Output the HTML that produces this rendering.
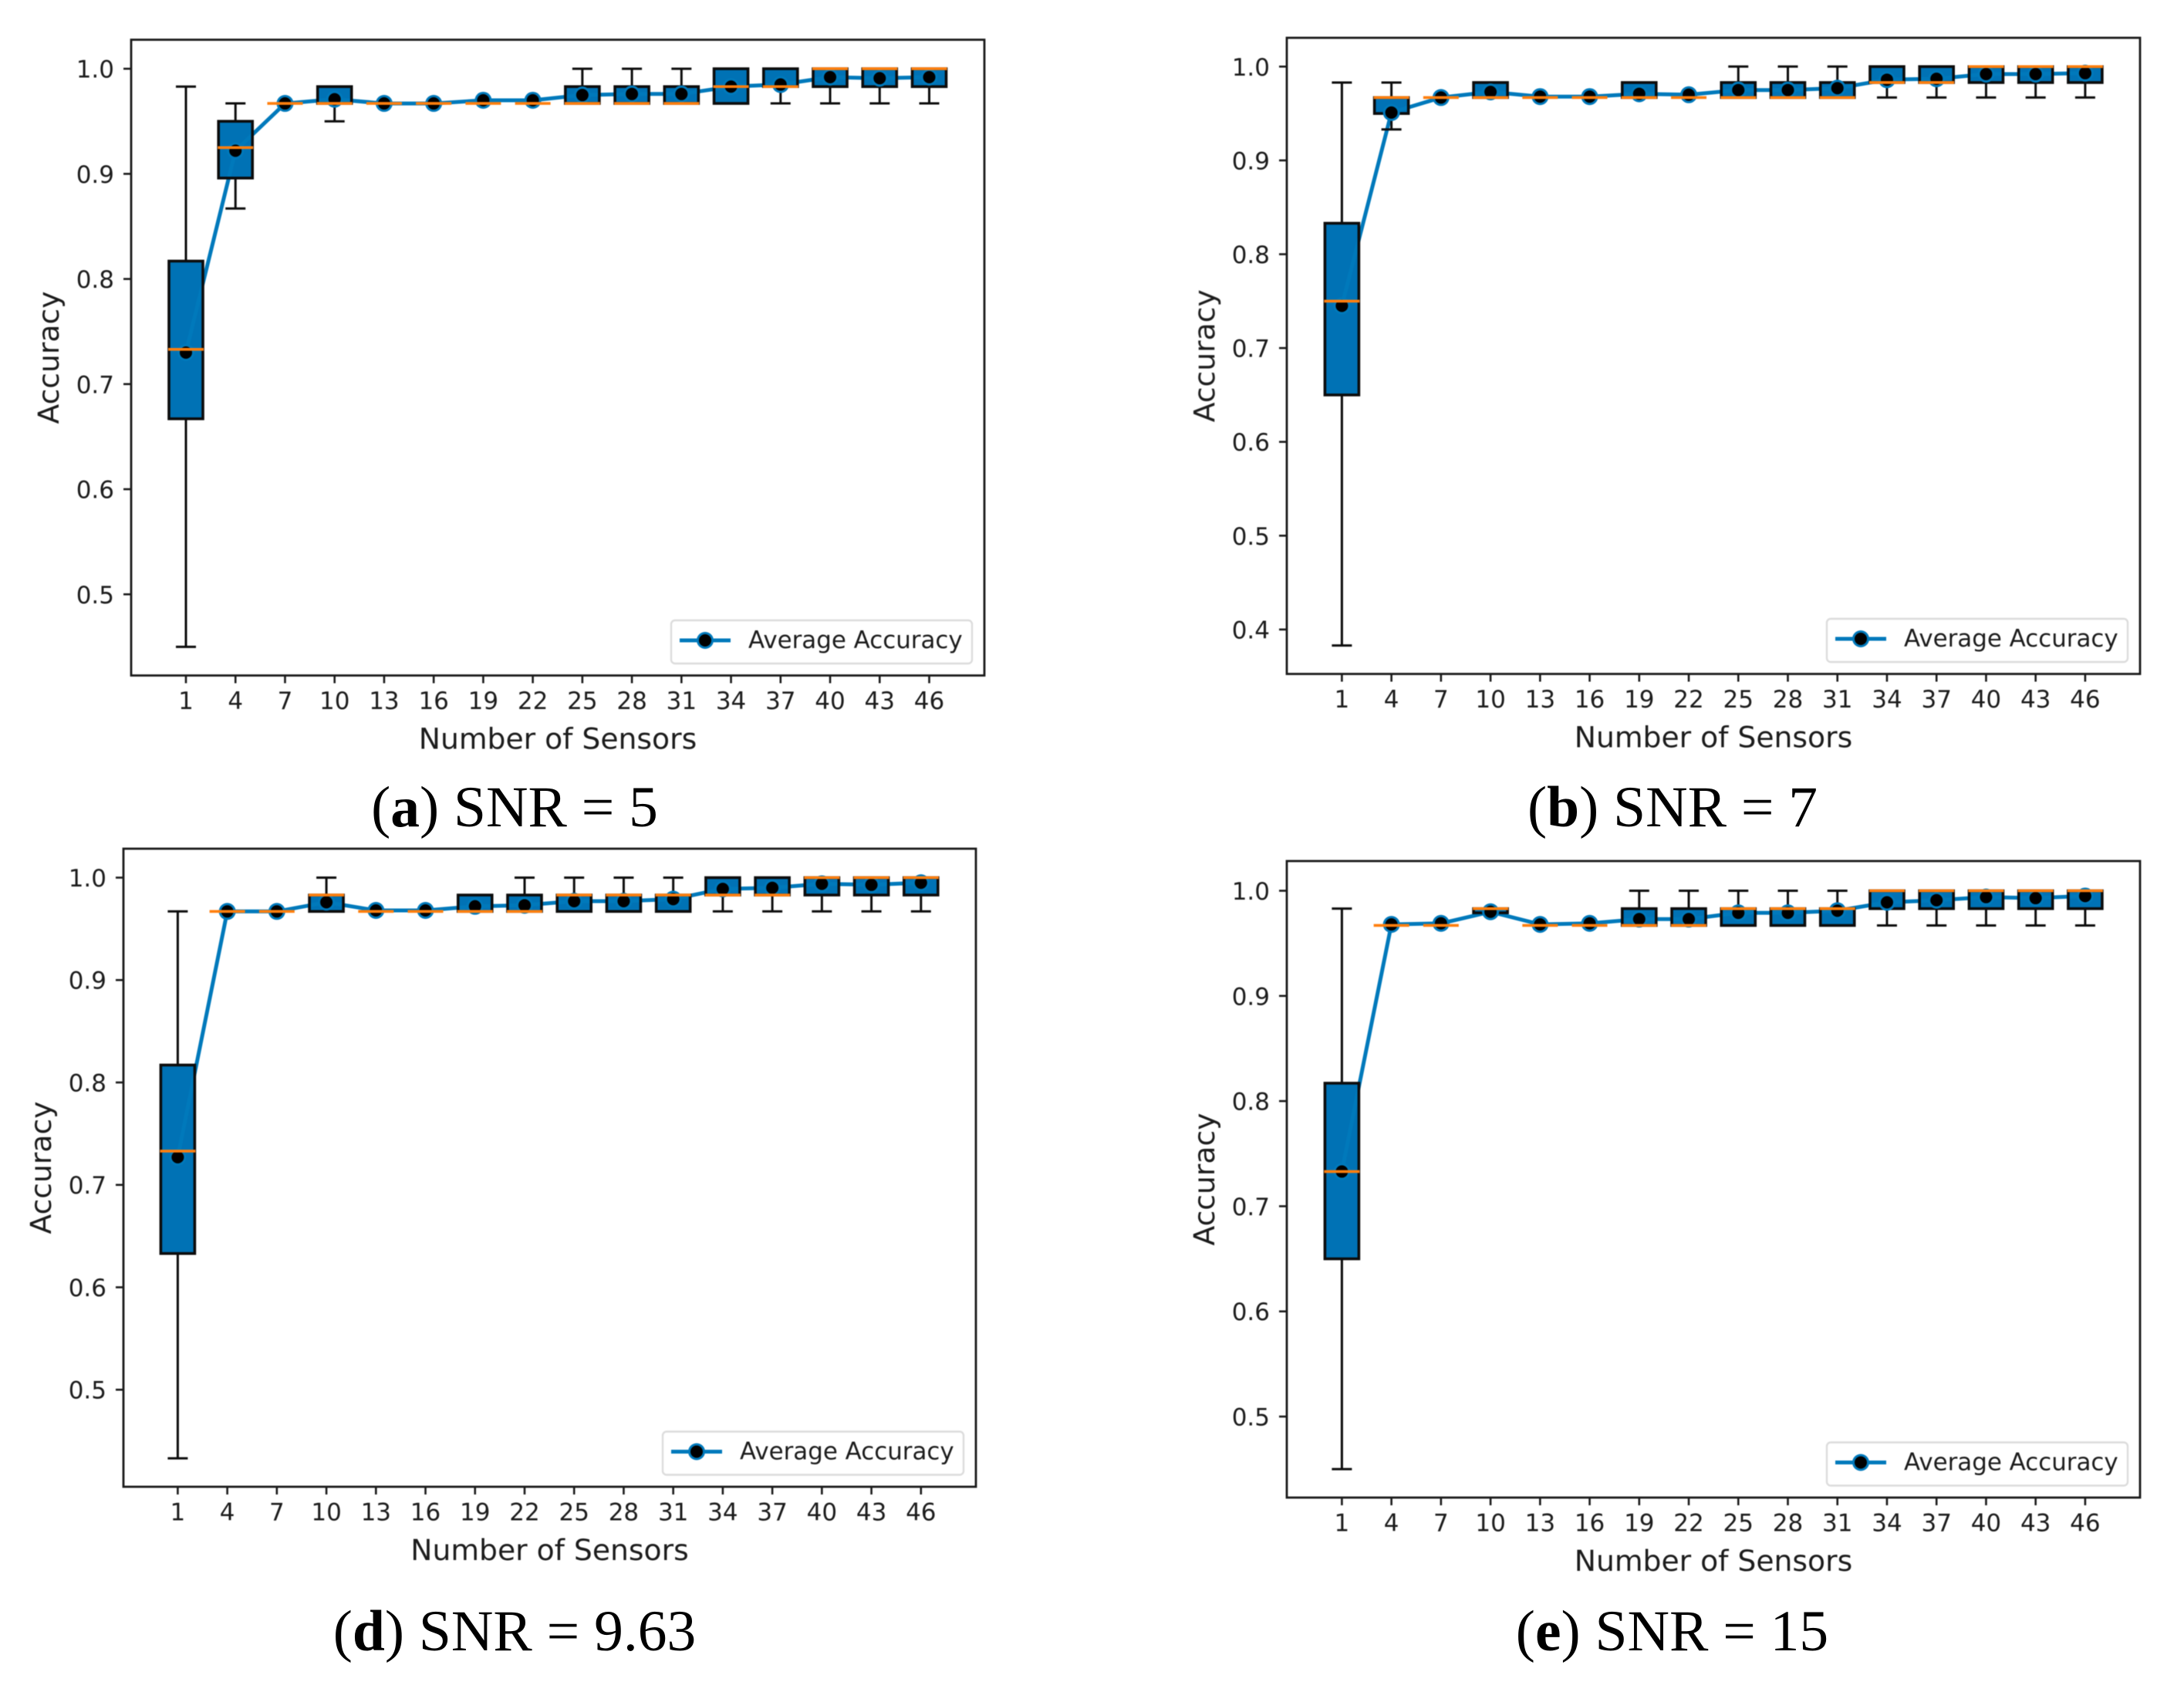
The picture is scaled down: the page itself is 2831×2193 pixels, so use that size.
<!DOCTYPE html>
<html>
<head>
<meta charset="utf-8">
<title>Accuracy vs. number of sensors at four SNR levels</title>
<style>
html,body{margin:0;padding:0;background:#fff;}
body{width:2831px;height:2193px;overflow:hidden;}
svg{display:block;}
.tick{font-family:"DejaVu Sans","Liberation Sans",sans-serif;font-size:31px;fill:#1c1c1c;}
.axis{font-family:"DejaVu Sans","Liberation Sans",sans-serif;font-size:37.7px;fill:#1c1c1c;}
.legend{font-family:"DejaVu Sans","Liberation Sans",sans-serif;font-size:30.9px;fill:#1c1c1c;}
.caption{font-family:"Liberation Serif",serif;font-size:75.5px;fill:#000;}
.plot{filter:blur(.6px);}
</style>
</head>
<body>
<svg id="figure" xmlns="http://www.w3.org/2000/svg" width="2831" height="2193" viewBox="0 0 2831 2193"></svg>
<script>
// Shared data
const categories = [1,4,7,10,13,16,19,22,25,28,31,34,37,40,43,46];
const yTicksFrom05 = [0.5,0.6,0.7,0.8,0.9,1.0];
const yTicksFrom04 = [0.4,0.5,0.6,0.7,0.8,0.9,1.0];

// Panel (a) SNR = 5
const lowA  = [.45,.867,.967,.95,.967,.967,.967,.967,.967,.967,.967,.967,.967,.967,.967,.967];
const q1A   = [.667,.896,.967,.967,.967,.967,.967,.967,.967,.967,.967,.967,.983,.983,.983,.983];
const medA  = [.733,.925,.967,.967,.967,.967,.967,.967,.967,.967,.967,.983,.983,1,1,1];
const q3A   = [.817,.95,.967,.983,.967,.967,.967,.967,.983,.983,.983,1,1,1,1,1];
const highA = [.983,.967,.967,.983,.967,.967,.967,.967,1,1,1,1,1,1,1,1];
const meanA = [.73,.922,.967,.971,.967,.967,.97,.97,.975,.976,.976,.983,.985,.992,.991,.992];

// Panel (b) SNR = 7
const lowB  = [.383,.933,.967,.967,.967,.967,.967,.967,.967,.967,.967,.967,.967,.967,.967,.967];
const q1B   = [.65,.95,.967,.967,.967,.967,.967,.967,.967,.967,.967,.983,.983,.983,.983,.983];
const medB  = [.75,.967,.967,.967,.967,.967,.967,.967,.967,.967,.967,.983,.983,1,1,1];
const q3B   = [.833,.967,.967,.983,.967,.967,.983,.967,.983,.983,.983,1,1,1,1,1];
const highB = [.983,.983,.967,.983,.967,.967,.983,.967,1,1,1,1,1,1,1,1];
const meanB = [.745,.951,.967,.973,.968,.968,.971,.97,.975,.975,.977,.986,.987,.992,.992,.993];

// Panel (d) SNR = 9.63
const lowD  = [.433,.967,.967,.967,.967,.967,.967,.967,.967,.967,.967,.967,.967,.967,.967,.967];
const q1D   = [.633,.967,.967,.967,.967,.967,.967,.967,.967,.967,.967,.983,.983,.983,.983,.983];
const medD  = [.733,.967,.967,.983,.967,.967,.967,.967,.983,.983,.983,.983,.983,1,1,1];
const q3D   = [.817,.967,.967,.983,.967,.967,.983,.983,.983,.983,.983,1,1,1,1,1];
const highD = [.967,.967,.967,1,.967,.967,.983,1,1,1,1,1,1,1,1,1];
const meanD = [.727,.967,.967,.976,.968,.968,.972,.973,.977,.977,.979,.989,.99,.994,.993,.995];

// Panel (e) SNR = 15
const lowE  = [.45,.967,.967,.979,.967,.967,.967,.967,.967,.967,.967,.967,.967,.967,.967,.967];
const q1E   = [.65,.967,.967,.979,.967,.967,.967,.967,.967,.967,.967,.983,.983,.983,.983,.983];
const medE  = [.733,.967,.967,.983,.967,.967,.967,.967,.983,.983,.983,1,1,1,1,1];
const q3E   = [.817,.967,.967,.983,.967,.967,.983,.983,.983,.983,.983,1,1,1,1,1];
const highE = [.983,.967,.967,.983,.967,.967,1,1,1,1,1,1,1,1,1,1];
const meanE = [.733,.968,.969,.98,.968,.969,.973,.973,.979,.979,.981,.989,.991,.994,.993,.995];

const NS = 'http://www.w3.org/2000/svg';
const root = document.getElementById('figure');
const BLUE = '#0072b5';
const LINE_BLUE = '#0079bb';
const ORANGE = '#ff7f0e';

function mk(parent, tag, props, text) {
  const el = document.createElementNS(NS, tag);
  for (const k in props) el.setAttribute(k, props[k]);
  if (text !== undefined) el.textContent = text;
  parent.appendChild(el);
  return el;
}

function drawPanel(p) {
  const fx0 = p.left, fx1 = p.right, fy0 = p.top, fy1 = p.bottom;
  const xScale = i => p.x0 + i * (p.x1 - p.x0) / (categories.length - 1);
  const yScale = v => p.yOne + (1 - v) * p.yPerUnit;

  const g = mk(root, 'g', {class: 'plot'});
  
  

  const bg = mk(g, 'rect', {x: fx0, y: fy0, width: fx1 - fx0, height: fy1 - fy0, fill: '#fff'});
  
  

  // box fills first
  categories.forEach((c, i) => {
    const cx = xScale(i);
    const t = yScale(p.q3[i]), b = yScale(p.q1[i]);
    const fillRect = mk(g, 'rect', {x: cx - 22, y: t, width: 44, height: b - t, fill: BLUE});
    
    
  });

  // average accuracy line
  const pts = p.mean.map((v, i) => xScale(i).toFixed(1) + ',' + yScale(v).toFixed(1)).join(' ');
  const line = mk(g, 'polyline', {points: pts, fill: 'none', stroke: LINE_BLUE, 'stroke-width': 5, 'stroke-linejoin': 'round'});
  
  

  // whiskers, caps, outlines
  categories.forEach((c, i) => {
    const cx = xScale(i);
    const t = yScale(p.q3[i]), b = yScale(p.q1[i]);
    const hi = yScale(p.high[i]), lo = yScale(p.low[i]);
    const wg = mk(g, 'g', {stroke: '#0c0c0c', 'stroke-width': 3, fill: 'none'});
    
    
    if (hi < t) {
      const upper = mk(wg, 'line', {x1: cx, x2: cx, y1: hi, y2: t});
      
      
      const upperCap = mk(wg, 'line', {x1: cx - 13, x2: cx + 13, y1: hi, y2: hi});
      
      
    }
    if (lo > b) {
      const lower = mk(wg, 'line', {x1: cx, x2: cx, y1: b, y2: lo});
      
      
      const lowerCap = mk(wg, 'line', {x1: cx - 13, x2: cx + 13, y1: lo, y2: lo});
      
      
    }
    const outline = mk(wg, 'rect', {x: cx - 22, y: t, width: 44, height: b - t, 'stroke-width': 3.6});
    
    
  });

  // markers
  categories.forEach((c, i) => {
    const cx = xScale(i), cy = yScale(p.mean[i]);
    const halo = mk(g, 'circle', {cx: cx, cy: cy, r: 11, fill: LINE_BLUE});
    
    
    const dot = mk(g, 'circle', {cx: cx, cy: cy, r: 8, fill: '#000'});
    
    
  });

  // medians
  categories.forEach((c, i) => {
    const cx = xScale(i), m = yScale(p.med[i]);
    const med = mk(g, 'line', {x1: cx - 23, x2: cx + 23, y1: m, y2: m, stroke: ORANGE, 'stroke-width': 3.6});
    
    
  });

  // frame
  const frame = mk(g, 'rect', {x: fx0, y: fy0, width: fx1 - fx0, height: fy1 - fy0, fill: 'none', stroke: '#1a1a1a', 'stroke-width': 2.8});
  
  

  // x ticks
  categories.forEach((c, i) => {
    const cx = xScale(i);
    const tk = mk(g, 'line', {x1: cx, x2: cx, y1: fy1, y2: fy1 + 10, stroke: '#1a1a1a', 'stroke-width': 2.6});
    
    
    const lb = mk(g, 'text', {x: cx, y: fy1 + 43.5, 'text-anchor': 'middle', class: 'tick'}, String(c));
    
    
  });

  // y ticks
  p.yTicks.forEach(v => {
    const y = yScale(v);
    const tk = mk(g, 'line', {x1: fx0 - 10, x2: fx0, y1: y, y2: y, stroke: '#1a1a1a', 'stroke-width': 2.6});
    
    
    const lb = mk(g, 'text', {x: fx0 - 22, y: y + 11.5, 'text-anchor': 'end', class: 'tick'}, v.toFixed(1));
    
    
  });

  // axis titles
  const xt = mk(g, 'text', {x: (fx0 + fx1) / 2, y: fy1 + 95, 'text-anchor': 'middle', class: 'axis'}, 'Number of Sensors');
  
  
  const ytx = fx0 - 94, yty = (fy0 + fy1) / 2;
  const yt = mk(g, 'text', {x: ytx, y: yty, 'text-anchor': 'middle', class: 'axis', transform: 'rotate(-90 ' + ytx + ' ' + yty + ')'}, 'Accuracy');
  
  

  // legend
  const lx1 = fx1 - 16, lx0 = lx1 - 390, ly1 = fy1 - 15.5, ly0 = ly1 - 56, lyc = ly0 + 26;
  const lg = mk(g, 'g', {});
  
  
  const lbox = mk(lg, 'rect', {x: lx0, y: ly0, width: 390, height: 56, rx: 5, fill: '#fff', stroke: '#dcdcdc', 'stroke-width': 2.4});
  
  
  const lline = mk(lg, 'line', {x1: lx0 + 11, x2: lx0 + 77, y1: lyc, y2: lyc, stroke: LINE_BLUE, 'stroke-width': 5});
  
  
  const lhalo = mk(lg, 'circle', {cx: lx0 + 44, cy: lyc, r: 11, fill: LINE_BLUE});
  
  
  const ldot = mk(lg, 'circle', {cx: lx0 + 44, cy: lyc, r: 8, fill: '#000'});
  
  
  const ltext = mk(lg, 'text', {x: lx0 + 100, y: ly0 + 36, class: 'legend'}, 'Average Accuracy');
  
  

  // caption (outside blur group)
  const cap = mk(root, 'text', {x: p.capX, y: p.capY, 'text-anchor': 'middle', class: 'caption'});
  
  
  mk(cap, 'tspan', {}, '(');
  mk(cap, 'tspan', {'font-weight': 'bold'}, p.id);
  mk(cap, 'tspan', {}, ') ' + p.label);
}

drawPanel({id:'a', label:'SNR = 5', left:170, right:1276, top:51.5, bottom:875.5,
  x0:241, x1:1204.5, yOne:89.1, yPerUnit:1362.4, yTicks:yTicksFrom05,
  low:lowA, q1:q1A, med:medA, q3:q3A, high:highA, mean:meanA, capX:667, capY:1071});
drawPanel({id:'b', label:'SNR = 7', left:1668, right:2774, top:49, bottom:873.5,
  x0:1739.4, x1:2702.9, yOne:86.3, yPerUnit:1216, yTicks:yTicksFrom04,
  low:lowB, q1:q1B, med:medB, q3:q3B, high:highB, mean:meanB, capX:2168, capY:1071});
drawPanel({id:'d', label:'SNR = 9.63', left:160, right:1265, top:1100, bottom:1927,
  x0:230.4, x1:1193.8, yOne:1137.5, yPerUnit:1327.4, yTicks:yTicksFrom05,
  low:lowD, q1:q1D, med:medD, q3:q3D, high:highD, mean:meanD, capX:667, capY:2139});
drawPanel({id:'e', label:'SNR = 15', left:1668, right:2774, top:1116, bottom:1941,
  x0:1739.4, x1:2702.9, yOne:1154.5, yPerUnit:1363, yTicks:yTicksFrom05,
  low:lowE, q1:q1E, med:medE, q3:q3E, high:highE, mean:meanE, capX:2167.5, capY:2139});
</script>
</body>
</html>
